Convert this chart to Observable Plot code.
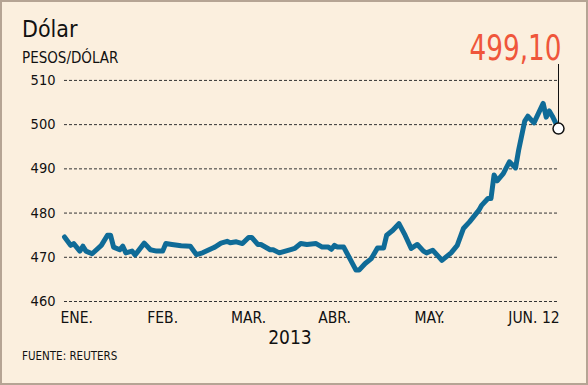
<!DOCTYPE html>
<html>
<head>
<meta charset="utf-8">
<script src="https://cdn.jsdelivr.net/npm/d3@7"></script>
<script src="https://cdn.jsdelivr.net/npm/@observablehq/plot@0.6"></script>
<style>
  html, body { margin: 0; padding: 0; background: #fbefde; }
  #chart { position: relative; width: 588px; height: 385px; background: #fbefde; overflow: hidden;
           font-family: "DejaVu Sans Condensed", "DejaVu Sans", sans-serif; color: #111; }
  #chart svg { position: absolute; left: 0; top: 0; }
  .t { position: absolute; white-space: nowrap; line-height: 1; }
  #frame { position: absolute; left: 0; top: 0; width: 588px; height: 385px; box-sizing: border-box;
           border: 2px solid #b5a494; pointer-events: none; }
</style>
</head>
<body>
<div id="chart">
  <div class="t" id="title" style="left:22px; top:18px; font-size:23px;">Dólar</div>
  <div class="t" id="sub" style="left:22px; top:51px; font-size:15px;">PESOS/DÓLAR</div>
  <div class="t" id="year" style="left:290px; top:328px; font-size:19px; transform:translateX(-50%);">2013</div>
  <div class="t" id="source" style="left:22px; top:351px; font-size:11.5px;">FUENTE: REUTERS</div>
  <div id="frame"></div>
</div>
<script>
const dates = [
  "2013-01-02","2013-01-04","2013-01-05","2013-01-07","2013-01-08","2013-01-09","2013-01-11","2013-01-14",
  "2013-01-16","2013-01-17","2013-01-18","2013-01-20","2013-01-21","2013-01-22","2013-01-24","2013-01-25",
  "2013-01-28","2013-01-30","2013-02-01","2013-02-03","2013-02-04","2013-02-06","2013-02-09","2013-02-12",
  "2013-02-14","2013-02-16","2013-02-19","2013-02-20","2013-02-22","2013-02-24","2013-02-25","2013-02-27",
  "2013-03-01","2013-03-03","2013-03-04","2013-03-06","2013-03-07","2013-03-10","2013-03-11","2013-03-13",
  "2013-03-17","2013-03-18","2013-03-20","2013-03-22","2013-03-25","2013-03-27","2013-03-29","2013-03-30",
  "2013-03-31","2013-04-01","2013-04-03","2013-04-05","2013-04-07","2013-04-08","2013-04-10","2013-04-12",
  "2013-04-14","2013-04-16","2013-04-17","2013-04-19","2013-04-21","2013-04-23","2013-04-25","2013-04-27",
  "2013-04-29","2013-04-30","2013-05-02","2013-05-04","2013-05-05","2013-05-08","2013-05-10","2013-05-12",
  "2013-05-14","2013-05-17","2013-05-18","2013-05-20","2013-05-21","2013-05-22","2013-05-23","2013-05-25",
  "2013-05-27","2013-05-29","2013-05-30","2013-06-01","2013-06-02","2013-06-04","2013-06-07","2013-06-08",
  "2013-06-09","2013-06-10","2013-06-12"
];
const values = [
  474.6,472.7,473.1,471.4,472.5,471.4,470.8,472.7,
  475.0,475.0,472.3,471.7,472.5,471.0,471.4,470.5,
  473.2,471.7,471.4,471.4,473.1,472.9,472.6,472.5,
  470.6,471.0,472.0,472.3,473.2,473.6,473.3,473.5,
  473.1,474.5,474.5,472.9,472.9,471.7,471.7,471.0,
  471.8,472.0,473.1,472.9,473.1,472.3,472.3,471.8,
  472.7,472.3,472.3,469.7,467.1,467.1,468.6,469.7,
  472.1,472.1,475.0,476.1,477.6,475.0,472.0,472.9,
  471.4,471.0,471.6,470.1,469.3,471.0,472.7,476.5,
  478.0,480.6,481.8,483.3,483.3,488.6,487.3,488.9,
  491.6,490.2,494.2,500.8,501.9,500.4,504.8,501.7,
  503.1,501.9,499.1
];
const yTicks = [460, 470, 480, 490, 500, 510];
const yTop = 513.6;
const monthTickDates = ["2013-01-06","2013-02-03","2013-03-03","2013-03-31","2013-05-01","2013-06-04"];
const monthLabels = ["ENE.","FEB.","MAR.","ABR.","MAY.","JUN. 12"];

const data = dates.map((d, i) => ({date: new Date(d), value: values[i]}));
const last = data[data.length - 1];
const fmt = v => v.toFixed(2).replace(".", ",");

const plot = Plot.plot({
  width: 588,
  height: 385,
  marginLeft: 64,
  marginRight: 30,
  marginTop: 64,
  marginBottom: 84,
  style: {background: "transparent", fontFamily: "'DejaVu Sans Condensed', 'DejaVu Sans', sans-serif", color: "#111"},
  x: {type: "utc", domain: [data[0].date, last.date]},
  y: {domain: [460, yTop]},
  marks: [
    Plot.gridY(yTicks, {stroke: "#333", strokeOpacity: 1, strokeDasharray: "3,2", strokeWidth: 1}),
    Plot.axisY({ticks: yTicks, tickSize: 0, tickPadding: 9, fontSize: 14.5, label: null}),
    Plot.axisX({ticks: monthTickDates.map(d => new Date(d)), tickSize: 0, tickPadding: 10, fontSize: 15.5,
                tickFormat: (d, i) => monthLabels[i], label: null}),
    Plot.line(data, {x: "date", y: "value", stroke: "#0f6b97", strokeWidth: 5, strokeLinejoin: "round", strokeLinecap: "round"}),
    Plot.ruleX([last], {x: "date", y1: "value", y2: () => yTop, stroke: "#111", strokeWidth: 1}),
    Plot.dot([last], {x: "date", y: "value", r: 5.5, fill: "white", stroke: "#111", strokeWidth: 1.5}),
    Plot.text([last], {x: "date", y: () => yTop, text: d => fmt(d.value), textAnchor: "end", lineAnchor: "bottom",
                       dx: 3, dy: -5, fill: "#ef563b", fontSize: 36,
                       fontFamily: "'DejaVu Sans Condensed', sans-serif"})
  ]
});
// Narrow the big value label to match the condensed face of the original
d3.select(plot).selectAll("text").filter(function() { return this.textContent === fmt(last.value); })
  .attr("textLength", 92).attr("lengthAdjust", "spacingAndGlyphs");
document.getElementById("chart").insertBefore(plot, document.getElementById("frame"));
</script>
</body>
</html>
